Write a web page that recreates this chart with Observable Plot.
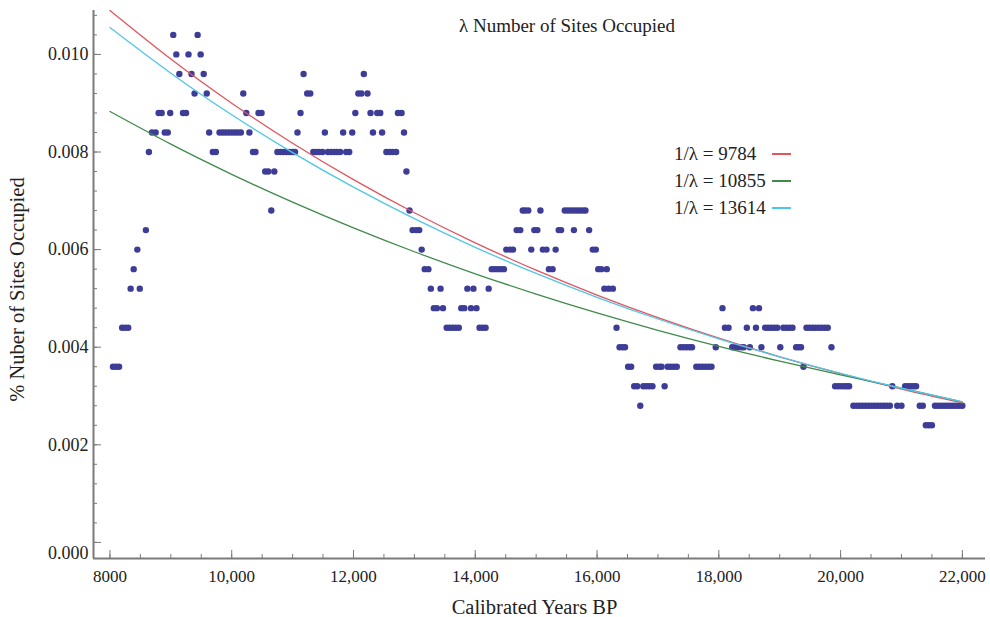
<!DOCTYPE html>
<html><head><meta charset="utf-8">
<script src="https://cdn.jsdelivr.net/npm/d3@7"></script>
<script src="https://cdn.jsdelivr.net/npm/@observablehq/plot@0.6"></script>
<style>
body{margin:0;background:#fff;}
#wrap{position:relative;width:990px;height:617px;font-family:"Liberation Serif","DejaVu Serif",serif;color:#222;}
.ov{position:absolute;white-space:nowrap;line-height:1;}
.lg{position:absolute;height:1.6px;}
</style></head><body><div id="wrap"></div>
<script>
// ---- data ----
const siteYears = [
 8050,8100,8150,8200,8250,8300,8340,8390,8450,8490,8590,8640,8690,8750,8800,8850,8900,8950,8990,
 9040,9090,9140,9200,9250,9290,9340,9390,9440,9490,9540,9590,9630,9690,9740,
 9800,9850,9900,9950,10000,10050,10100,10150,10190,10240,10290,10350,10390,10440,10490,
 10550,10600,10650,10700,10750,10800,10850,10900,10950,11000,11040,11080,11130,11180,11240,11290,
 11340,11390,11440,11490,11530,11580,11630,11680,11730,11780,11830,11880,11930,11980,
 12030,12080,12130,12170,12230,12280,12320,12390,12440,12470,12540,12590,12640,12700,12730,12790,12830,12870,12920,
 12970,13030,13080,13120,13170,13230,13270,13320,13370,13430,13470,13530,13580,13630,13680,13730,
 13770,13820,13870,13930,13970,14020,14070,14120,14170,14220,14270,14320,14370,14420,14470,
 14510,14570,14620,14680,14740,14780,14820,14870,14920,14970,15020,15070,15110,15170,15210,15270,15320,15370,15410,
 15470,15520,15570,15620,15670,15720,15770,15810,15620,15870,15930,15980,16020,16070,16120,16160,16190,16260,
 16320,16370,16420,16460,16510,16560,16610,16660,16710,16760,16810,16860,16910,16970,17020,17060,17110,
 17160,17210,17260,17310,17370,17420,17470,17520,17560,17630,17680,17730,17780,17830,17880,17950,
 18060,18100,18160,18220,18270,18320,18370,18410,18460,18510,18560,18610,18660,18700,
 18760,18810,18860,18910,18960,19010,19060,19110,19160,19210,19270,19310,19350,19390,
 19440,19490,19540,19590,19640,19690,19740,19790,19850,19910,19960,20010,20060,20100,20140,
 20210,20260,20310,20360,20410,20460,20510,20560,20610,20660,20710,20760,20810,20850,20930,21000,
 21060,21110,21160,21200,21240,21300,21350,21400,21450,21500,
 21550,21600,21650,21700,21750,21800,21850,21900,21950,22000
];
const siteShare = [
 .0036,.0036,.0036,.0044,.0044,.0044,.0052,.0056,.0060,.0052,.0064,.0080,.0084,.0084,.0088,.0088,.0084,.0084,.0088,
 .0104,.0100,.0096,.0088,.0088,.0100,.0096,.0092,.0104,.0100,.0096,.0092,.0084,.0080,.0080,
 .0084,.0084,.0084,.0084,.0084,.0084,.0084,.0084,.0092,.0088,.0084,.0080,.0080,.0088,.0088,
 .0076,.0076,.0068,.0076,.0080,.0080,.0080,.0080,.0080,.0080,.0080,.0084,.0088,.0096,.0092,.0092,
 .0080,.0080,.0080,.0080,.0084,.0080,.0080,.0080,.0080,.0080,.0084,.0080,.0080,.0084,
 .0088,.0092,.0092,.0096,.0092,.0088,.0084,.0088,.0088,.0084,.0080,.0080,.0080,.0080,.0088,.0088,.0084,.0076,.0068,
 .0064,.0064,.0064,.0060,.0056,.0056,.0052,.0048,.0048,.0052,.0048,.0044,.0044,.0044,.0044,.0044,
 .0048,.0048,.0052,.0048,.0052,.0048,.0044,.0044,.0044,.0052,.0056,.0056,.0056,.0056,.0056,
 .0060,.0060,.0060,.0064,.0064,.0068,.0068,.0068,.0060,.0064,.0064,.0068,.0060,.0060,.0056,.0056,.0060,.0064,.0064,
 .0068,.0068,.0068,.0068,.0068,.0068,.0068,.0068,.0064,.0064,.0060,.0060,.0056,.0056,.0052,.0056,.0052,.0052,
 .0044,.0040,.0040,.0040,.0036,.0036,.0032,.0032,.0028,.0032,.0032,.0032,.0032,.0036,.0036,.0036,.0032,
 .0036,.0036,.0036,.0036,.0040,.0040,.0040,.0040,.0040,.0036,.0036,.0036,.0036,.0036,.0036,.0040,
 .0048,.0044,.0044,.0040,.0040,.0040,.0040,.0040,.0044,.0040,.0048,.0044,.0048,.0040,
 .0044,.0044,.0044,.0044,.0044,.0040,.0044,.0044,.0044,.0044,.0040,.0040,.0040,.0036,
 .0044,.0044,.0044,.0044,.0044,.0044,.0044,.0044,.0040,.0032,.0032,.0032,.0032,.0032,.0032,
 .0028,.0028,.0028,.0028,.0028,.0028,.0028,.0028,.0028,.0028,.0028,.0028,.0028,.0032,.0028,.0028,
 .0032,.0032,.0032,.0032,.0032,.0028,.0028,.0024,.0024,.0024,
 .0028,.0028,.0028,.0028,.0028,.0028,.0028,.0028,.0028,.0028
];
// fitted curves, read every 1000 years
const curveYears = [8000,9000,10000,11000,12000,13000,14000,15000,16000,17000,18000,19000,20000,21000,22000];
const fit9784  = [0.01090,0.009905,0.009001,0.008180,0.007434,0.006755,0.006139,0.005578,0.005069,0.004607,0.004186,0.003804,0.003457,0.003142,0.002860];
const fit10855 = [0.00883,0.008161,0.007543,0.006972,0.006445,0.005956,0.005505,0.005089,0.004703,0.004347,0.004018,0.003714,0.003433,0.003160,0.002880];
const fit13614 = [0.01055,0.009615,0.008763,0.007987,0.007280,0.006635,0.006047,0.005511,0.005023,0.004578,0.004172,0.003803,0.003466,0.003159,0.002880];
const legendLabels = ["1/λ = 9784", "1/λ = 10855", "1/λ = 13614"];
const curveColors = ["#e2545e", "#3f8a4a", "#4fc6e6"];
const xTickValues = [8000,10000,12000,14000,16000,18000,20000,22000];
const xTickLabels = ["8000","10,000","12,000","14,000","16,000","18,000","20,000","22,000"];
const yTickValues = [0,0.002,0.004,0.006,0.008,0.010];
const yTickLabels = ["0.000","0.002","0.004","0.006","0.008","0.010"];
const titleText = "λ Number of Sites Occupied";
const xLabel = "Calibrated Years BP";
const yLabel = "% Nuber of Sites Occupied";

// ---- chart ----
const xDomain = [7730, 22380];
const yDomain = [-0.00033, 0.0109];
const sites = siteYears.map((y, i) => ({year: y, share: siteShare[i]}));
const fits = [fit9784, fit10855, fit13614];
const axisColor = "#7a7a7a";
const xMinor = d3.range(8000, 22001, 500);
const yMinor = d3.range(0, 0.0109, 0.0004);

const chart = Plot.plot({
  width: 990, height: 617,
  marginLeft: 93, marginRight: 5, marginTop: 10, marginBottom: 59,
  style: {fontFamily: '"Liberation Serif", serif', fontSize: "17px", color: "#222", background: "white", overflow: "visible"},
  x: {domain: xDomain},
  y: {domain: yDomain},
  marks: [
    Plot.axisX(xMinor, {tickSize: -4, tickFormat: () => "", stroke: axisColor, label: null}),
    Plot.axisX(xTickValues, {tickSize: -8, tickFormat: () => "", stroke: axisColor, label: null}),
    Plot.axisX(xTickValues, {tickSize: 0, tickPadding: 11, tickFormat: (d, i) => xTickLabels[i],
      label: xLabel, labelAnchor: "center", labelOffset: 55, labelArrow: "none", fontSize: 17}),
    Plot.axisY(yMinor, {tickSize: -4, tickFormat: () => "", stroke: axisColor, label: null}),
    Plot.axisY(yTickValues, {tickSize: -8, tickFormat: () => "", stroke: axisColor, label: null}),
    Plot.axisY(yTickValues.slice(1), {tickSize: 0, tickPadding: 5, tickFormat: (d, i) => yTickLabels[i + 1],
      label: yLabel, labelAnchor: "center", labelOffset: 84, labelArrow: "none", fontSize: 18, letterSpacing: "1.8px"}),
    Plot.axisY(yTickValues.slice(0, 1), {tickSize: 0, tickPadding: 5, tickFormat: () => yTickLabels[0],
      label: null, dy: 11, fontSize: 18, letterSpacing: "1.8px"}),
    Plot.ruleX([xDomain[0]], {stroke: axisColor, strokeWidth: 2}),
    Plot.ruleY([yDomain[0]], {stroke: axisColor, strokeWidth: 2}),
    Plot.dot(sites, {x: "year", y: "share", r: 3.2, fill: "#3d3d97", stroke: "none"}),
    ...fits.map((f, k) => Plot.line(curveYears, {x: d => d, y: (d, i) => f[i], stroke: curveColors[k], strokeWidth: 1.3, curve: "natural"}))
  ]
});
const wrap = document.getElementById("wrap");
wrap.appendChild(chart);
// axis label sizes and small placement nudges
chart.querySelectorAll("g[aria-label='x-axis label'] text").forEach(t => {
  t.style.fontSize = "20.5px"; t.style.letterSpacing = "0px"; t.setAttribute("dx", "-5");
});
chart.querySelectorAll("g[aria-label='y-axis label'] text").forEach(t => {
  t.style.fontSize = "20.5px"; t.style.letterSpacing = "0px"; t.setAttribute("dx", "-5");
});

const title = document.createElement("div");
title.className = "ov";
title.textContent = titleText;
title.style.cssText = "left:567px;top:25px;transform:translate(-50%,-50%);font-size:19px;";
wrap.appendChild(title);

const legendY = [153, 180, 207];
legendLabels.forEach((t, k) => {
  const d = document.createElement("div");
  d.className = "ov";
  d.textContent = t;
  d.style.cssText = `left:674px;top:${legendY[k]}px;transform:translateY(-50%);font-size:19px;`;
  wrap.appendChild(d);
  const l = document.createElement("div");
  l.className = "lg";
  l.style.cssText = `left:772px;width:19px;top:${legendY[k]}px;background:${curveColors[k]};`;
  wrap.appendChild(l);
});
</script>
</body></html>
